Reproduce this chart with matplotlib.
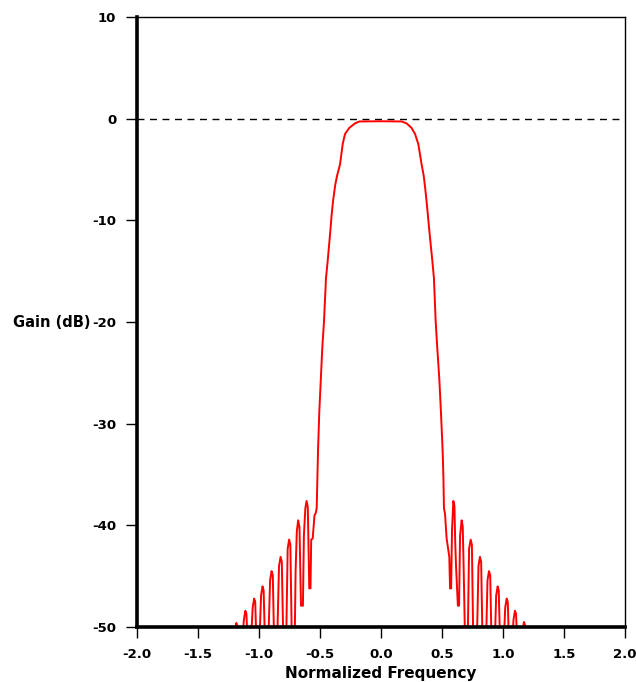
import matplotlib.pyplot as plt

# gain response (normalized frequency, dB)
left_freq = [-1.215, -1.195, -1.186, -1.178, -1.168,
             -1.140, -1.124, -1.112, -1.103, -1.092,
             -1.068, -1.052, -1.040, -1.031, -1.020,
             -0.998, -0.983, -0.971, -0.962, -0.950,
             -0.925, -0.909, -0.897, -0.887, -0.875,
             -0.852, -0.836, -0.823, -0.813, -0.800,
             -0.778, -0.765, -0.753, -0.743, -0.730,
             -0.708, -0.700, -0.690, -0.679, -0.668, -0.662, -0.656,
             -0.640, -0.632, -0.620, -0.610, -0.600, -0.595, -0.588,
             -0.578, -0.572, -0.560, -0.545, -0.535]
left_gain = [-52, -50.5, -49.6, -49.9, -52,
             -52, -49.3, -48.4, -48.7, -52,
             -52, -48.1, -47.2, -47.5, -52,
             -52, -46.9, -46.0, -46.4, -52,
             -52, -45.4, -44.5, -44.9, -52,
             -52, -44.0, -43.1, -43.6, -52,
             -52, -42.3, -41.4, -41.9, -52,
             -52, -44.5, -40.6, -39.5, -40.2, -44.0, -47.9,
             -47.9, -41.0, -38.3, -37.6, -38.2, -41.5, -46.2,
             -46.2, -41.4, -41.3, -39.0, -38.8]

main_freq = [-0.527, -0.522, -0.516, -0.506, -0.492, -0.481, -0.467, -0.451,
             -0.437, -0.415, -0.405, -0.393, -0.375, -0.360, -0.336, -0.314,
             -0.295, -0.260, -0.213, -0.178, 0.0, 0.169, 0.210, 0.250, 0.279,
             0.306, 0.333, 0.350, 0.362, 0.375, 0.396, 0.421, 0.434, 0.448,
             0.461, 0.478, 0.492, 0.506, 0.512, 0.516]
main_gain = [-38.3, -35.5, -32.6, -28.9, -25.3, -22.5, -19.9, -15.7,
             -14.0, -11.0, -9.5, -8.1, -6.5, -5.6, -4.5, -2.5,
             -1.5, -0.9, -0.46, -0.27, -0.25, -0.27, -0.46, -0.9, -1.5,
             -2.5, -4.5, -5.6, -6.8, -8.3, -11.0, -14.0, -15.7, -19.9,
             -22.5, -25.6, -29.0, -32.9, -35.5, -38.3]

right_freq = [0.525, 0.538, 0.560, 0.566, 0.575, 0.582, 0.593, 0.602, 0.608,
              0.615, 0.630, 0.640, 0.648, 0.661, 0.670, 0.678, 0.690,
              0.710, 0.722, 0.735, 0.745, 0.757,
              0.785, 0.799, 0.811, 0.821, 0.833,
              0.860, 0.873, 0.885, 0.895, 0.907,
              0.932, 0.944, 0.956, 0.965, 0.977,
              1.005, 1.018, 1.030, 1.039, 1.050,
              1.073, 1.086, 1.098, 1.107, 1.118,
              1.148, 1.160, 1.172, 1.180, 1.190]
right_gain = [-38.9, -41.3, -43.1, -46.2, -46.2, -40.5, -37.6, -38.1, -41.5,
              -44.0, -47.9, -47.9, -41.0, -39.5, -40.1, -44.5, -52,
              -52, -42.3, -41.4, -41.9, -52,
              -52, -44.0, -43.1, -43.6, -52,
              -52, -45.4, -44.5, -44.9, -52,
              -52, -46.9, -46.0, -46.4, -52,
              -52, -48.1, -47.2, -47.5, -52,
              -52, -49.3, -48.4, -48.7, -52,
              -52, -50.4, -49.5, -49.8, -52]

freq = left_freq + main_freq + right_freq
gain = left_gain + main_gain + right_gain

xticks = [-2.0, -1.5, -1.0, -0.5, 0.0, 0.5, 1.0, 1.5, 2.0]
yticks = [10, 0, -10, -20, -30, -40, -50]

fig = plt.figure(figsize=(6.36, 6.82), dpi=100)
ax = fig.add_axes([0.2154, 0.0806, 0.7673, 0.8944])

ax.axhline(0, color='black', lw=1, linestyle=(0, (5, 4)), zorder=1)
ax.plot(freq, gain, color='#ff0000', lw=1.4, zorder=2)

ax.set_xlim(-2, 2)
ax.set_ylim(-50, 10)
ax.set_xticks(xticks)
ax.set_xticklabels(['%.1f' % t for t in xticks])
ax.set_yticks(yticks)
ax.set_yticklabels([str(t) for t in yticks])

for side in ['left', 'bottom']:
    ax.spines[side].set_linewidth(2.6)
for side in ['top', 'right']:
    ax.spines[side].set_linewidth(1.0)

ax.tick_params(direction='out', length=8, width=1, labelsize=9.5, pad=7)
for lab in ax.get_xticklabels() + ax.get_yticklabels():
    lab.set_fontweight('bold')

ax.set_xlabel('Normalized Frequency', fontsize=11, fontweight='bold', labelpad=4)
ax.set_ylabel('Gain (dB)', fontsize=10.5, fontweight='bold', rotation=0,
              ha='right', va='center')
ax.yaxis.set_label_coords(-0.096, 0.5)

fig.savefig('out.png', dpi=100)
